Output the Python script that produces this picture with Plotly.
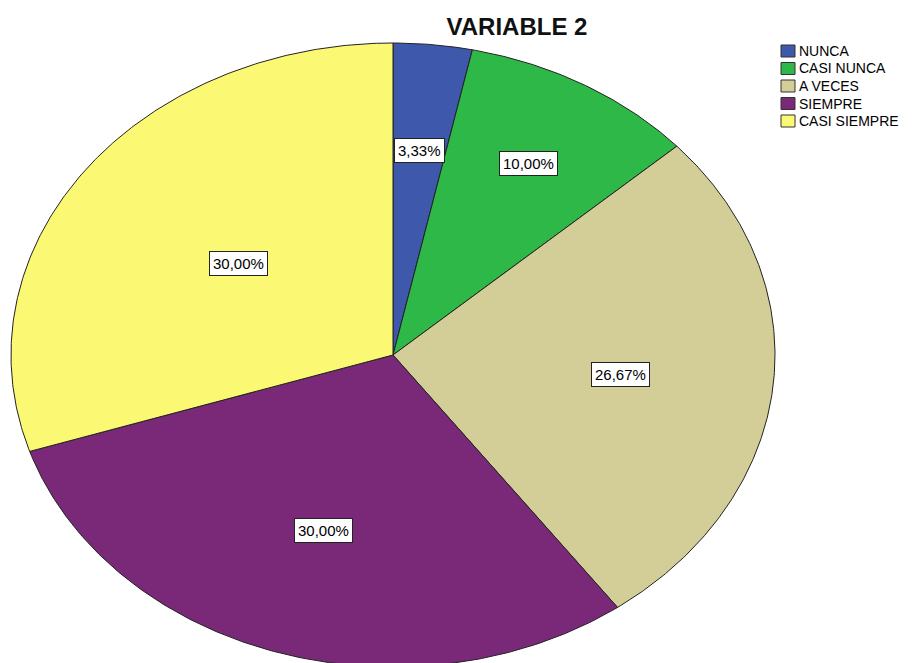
import numpy as np
import plotly.graph_objects as go

# Category data
categories = ["NUNCA", "CASI NUNCA", "A VECES", "SIEMPRE", "CASI SIEMPRE"]
percentages = [3.33, 10.00, 26.67, 30.00, 30.00]
value_labels = ["3,33%", "10,00%", "26,67%", "30,00%", "30,00%"]

# Styling
colors = ["#3E58AC", "#2EB848", "#D3CE97", "#7A2878", "#FBF873"]
label_radius = [0.66, 0.71, 0.60, 0.59, 0.50]
FONT = "Arial, Liberation Sans, sans-serif"

W, H = 917, 663
# pie centre and radii in pixels (elliptical pie)
cx, cy, rx, ry = 393, 355, 382, 312

fig = go.Figure()

total = sum(percentages)
start = 0.0
annotations = []
for name, pct, lab, col, lr in zip(categories, percentages, value_labels, colors, label_radius):
    sweep = 360.0 * pct / total
    theta = np.radians(np.linspace(start, start + sweep, max(int(sweep * 2), 4)))
    xs = np.concatenate([[0.0], np.sin(theta), [0.0]])
    ys = np.concatenate([[0.0], np.cos(theta), [0.0]])
    fig.add_trace(go.Scatter(
        x=xs, y=ys, mode="lines", fill="toself", fillcolor=col,
        line=dict(color="#222222", width=1), name=name, hoverinfo="name",
        showlegend=False,
    ))
    mid = np.radians(start + sweep / 2)
    annotations.append(dict(
        x=lr * np.sin(mid), y=lr * np.cos(mid), xref="x", yref="y",
        text=lab, showarrow=False, bgcolor="white", bordercolor="#222222",
        borderwidth=1, borderpad=3,
        font=dict(family=FONT, size=15, color="black"),
    ))
    start += sweep

# Legend: swatches with labels, top right
shapes = []
leg_x0, leg_y0, leg_step = 781, 51, 17.5
for i, (name, col) in enumerate(zip(categories, colors)):
    yc = leg_y0 + i * leg_step
    shapes.append(dict(
        type="rect", xref="paper", yref="paper",
        x0=leg_x0 / W, x1=(leg_x0 + 14) / W,
        y0=1 - (yc + 6) / H, y1=1 - (yc - 6) / H,
        fillcolor=col, line=dict(color="#333333", width=1),
    ))
    annotations.append(dict(
        x=(leg_x0 + 16) / W, y=1 - yc / H, xref="paper", yref="paper",
        xanchor="left", yanchor="middle", text=name, showarrow=False,
        font=dict(family=FONT, size=14, color="black"),
    ))

fig.update_layout(
    width=W, height=H,
    margin=dict(l=0, r=0, t=0, b=0),
    paper_bgcolor="white", plot_bgcolor="white",
    xaxis=dict(range=[-cx / rx, (W - cx) / rx], visible=False, fixedrange=True),
    yaxis=dict(range=[-(H - cy) / ry, cy / ry], visible=False, fixedrange=True),
    title=dict(text="<b>VARIABLE 2</b>", x=517 / W, xanchor="center", y=1 - 27 / H,
               yanchor="middle",
               font=dict(family=FONT, size=24, color="#111111")),
    annotations=annotations,
    shapes=shapes,
    showlegend=False,
)

fig.write_html("out.html")
